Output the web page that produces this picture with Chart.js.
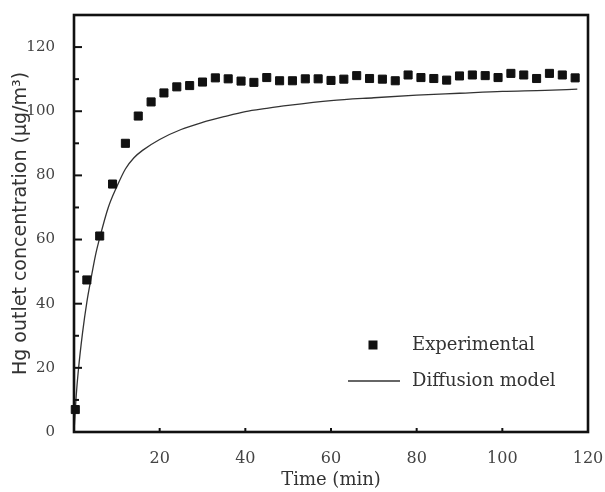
<!DOCTYPE html>
<html>
<head>
<meta charset="utf-8">
<script src="https://cdn.jsdelivr.net/npm/chart.js@4/dist/chart.umd.min.js"></script>
<style>
  html, body { margin: 0; padding: 0; background: #fff; }
  #wrap { width: 605px; height: 492px; }
</style>
</head>
<body>
<div id="wrap"><canvas id="hgChart"></canvas></div>
<script>
// experimental Hg outlet concentration (ug/m3) vs time (min)
const expTime = [0.3, 3, 6, 9, 12, 15, 18, 21, 24, 27, 30, 33, 36, 39, 42, 45, 48, 51, 54, 57,
    60, 63, 66, 69, 72, 75, 78, 81, 84, 87, 90, 93, 96, 99, 102, 105, 108, 111, 114, 117];
const expConc = [7, 47.4, 61.1, 77.3, 90, 98.5, 102.9, 105.7, 107.6, 108, 109.1, 110.4, 110.1, 109.4, 109, 110.5, 109.5, 109.5, 110.1, 110.1,
    109.6, 110, 111.1, 110.2, 110, 109.5, 111.3, 110.5, 110.2, 109.7, 111, 111.3, 111.1, 110.5, 111.8, 111.3, 110.2, 111.8, 111.3, 110.4];

// diffusion model curve
const modelTime = [0, 0.5, 1, 2, 3, 4, 5, 6, 8, 10, 12, 14, 16, 20, 25, 30, 35, 40, 45, 50, 60, 70, 80, 90, 100, 110, 117.5];
const modelConc = [0, 11, 19, 31, 40.5, 48, 55, 60.5, 70, 76.5, 82, 85.5, 87.8, 91.2, 94.3, 96.5, 98.3, 99.9, 100.9, 101.8, 103.3, 104.2, 105, 105.6, 106.2, 106.5, 106.9];

const xTicks = [20, 40, 60, 80, 100, 120];
const yTicks = [0, 20, 40, 60, 80, 100, 120];
const yMinorTicks = [10, 30, 50, 70, 90, 110];

const labels = ['Experimental', 'Diffusion model'];

const toPoints = (xs, ys) => xs.map((x, i) => ({x: x, y: ys[i]}));

// frame, inward ticks and the legend inside the plot
const framePlugin = {
    id: 'frame',
    afterDatasetsDraw(chart) {
        const ctx = chart.ctx;
        const a = chart.chartArea;
        const xs = chart.scales.x, ys = chart.scales.y;
        ctx.save();
        ctx.strokeStyle = '#111';
        ctx.lineWidth = 2;
        yTicks.forEach(v => {
            const py = ys.getPixelForValue(v);
            ctx.beginPath(); ctx.moveTo(a.left, py); ctx.lineTo(a.left + 8, py); ctx.stroke();
        });
        yMinorTicks.forEach(v => {
            const py = ys.getPixelForValue(v);
            ctx.beginPath(); ctx.moveTo(a.left, py); ctx.lineTo(a.left + 5, py); ctx.stroke();
        });
        xTicks.forEach(v => {
            const px = xs.getPixelForValue(v);
            ctx.beginPath(); ctx.moveTo(px, a.bottom); ctx.lineTo(px, a.bottom - 4); ctx.stroke();
        });
        ctx.lineWidth = 2.6;
        ctx.strokeRect(a.left, a.top, a.right - a.left, a.bottom - a.top);

        // legend
        const ds = chart.data.datasets;
        const row1 = a.bottom - 87, row2 = a.bottom - 51;
        ctx.fillStyle = '#111';
        ctx.fillRect(a.right - 219.5, row1 - 4.5, 9, 9);
        ctx.lineWidth = 1.3;
        ctx.strokeStyle = '#333';
        ctx.beginPath(); ctx.moveTo(a.right - 240, row2); ctx.lineTo(a.right - 188, row2); ctx.stroke();
        ctx.font = '18px "DejaVu Serif"';
        ctx.fillStyle = '#333';
        ctx.textBaseline = 'middle';
        ctx.fillText(ds[0].label, a.right - 176, row1);
        ctx.fillText(ds[1].label, a.right - 176, row2);
        ctx.restore();
    }
};

const ctx = document.getElementById('hgChart').getContext('2d');
const hgChart = new Chart(ctx, {
    type: 'scatter',
    data: {
        datasets: [{
            label: labels[0],
            data: toPoints(expTime, expConc),
            pointStyle: 'rect',
            pointRadius: 5.7,
            pointBorderWidth: 1,
            backgroundColor: '#111',
            borderColor: '#111',
            showLine: false,
            clip: false
        }, {
            label: labels[1],
            data: toPoints(modelTime, modelConc),
            showLine: true,
            pointRadius: 0,
            borderColor: '#333',
            borderWidth: 1.3,
            cubicInterpolationMode: 'monotone'
        }]
    },
    options: {
        responsive: true,
        maintainAspectRatio: false,
        animation: false,
        layout: { padding: { top: 15, right: 17, left: 0, bottom: 0 } },
        plugins: {
            legend: { display: false },
            tooltip: { enabled: false }
        },
        scales: {
            x: {
                type: 'linear',
                min: 0,
                max: 120,
                afterBuildTicks: s => { s.ticks = xTicks.map(v => ({value: v})); },
                afterFit: s => { s.height = 60; s.paddingLeft = 0; s.paddingRight = 0; },
                grid: { display: false },
                border: { display: false },
                ticks: {
                    padding: 9,
                    color: '#444',
                    font: { family: 'DejaVu Serif', size: 16 }
                },
                title: {
                    display: true,
                    text: 'Time (min)',
                    color: '#333',
                    font: { family: 'DejaVu Serif', size: 18 },
                    padding: { top: 0, bottom: 1 }
                }
            },
            y: {
                type: 'linear',
                min: 0,
                max: 130,
                afterBuildTicks: s => { s.ticks = yTicks.map(v => ({value: v})); },
                afterFit: s => { s.width = 74; s.paddingTop = 0; s.paddingBottom = 0; },
                grid: { display: false },
                border: { display: false },
                ticks: {
                    padding: 11,
                    color: '#444',
                    font: { family: 'DejaVu Serif', size: 15 }
                },
                title: {
                    display: true,
                    text: 'Hg outlet concentration (μg/m³)',
                    color: '#333',
                    font: { family: 'DejaVu Sans', size: 19 },
                    padding: { top: 10, bottom: 0 }
                }
            }
        }
    },
    plugins: [framePlugin]
});
</script>
</body>
</html>
